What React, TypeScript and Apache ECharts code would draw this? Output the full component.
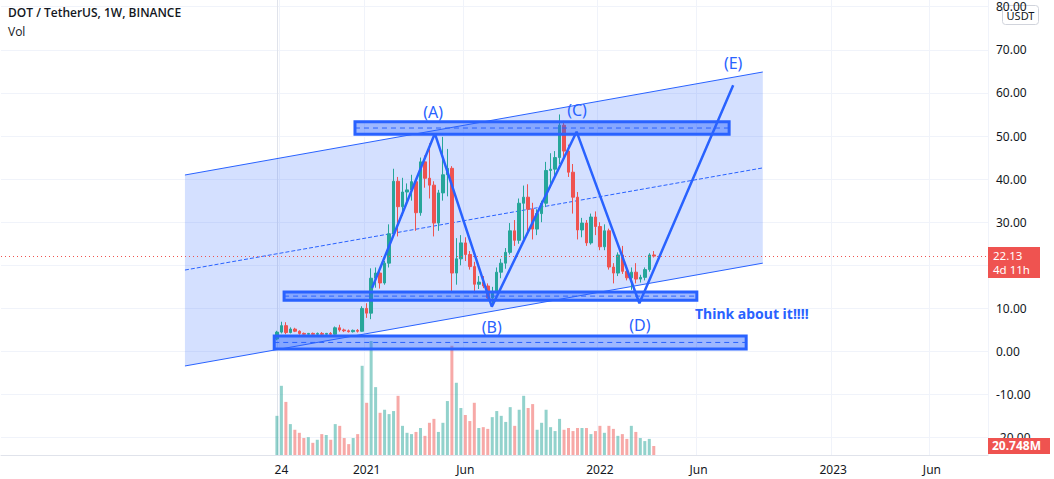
import React, { useEffect, useRef } from 'react';
import * as echarts from 'echarts';

// ---- weekly DOT/USDT candles (index 0 = week of 2020-08-17) ----
const opens = [2.9, 4.5, 6.0, 4.4, 5.2, 4.7, 4.2, 4.0, 4.2, 4.0, 4.2, 4.0, 4.2, 4.0, 5.5, 5.0, 4.8, 4.6, 4.9, 4.7,
  10.0, 8.9, 17.0, 18.2, 15.9, 20.5, 27.3, 39.5, 33.6, 37.0, 37.5, 39.4, 32.2, 44.0, 40.2, 38.6, 29.8, 36.8, 41.0, 42.5,
  18.2, 21.5, 25.2, 22.5, 19.7, 15.6, 16.1, 15.2, 12.4, 13.8, 18.4, 20.5, 23.0, 28.0, 25.8, 34.4, 35.8, 33.0, 28.4, 32.0,
  34.4, 42.0, 42.3, 45.0, 52.5, 46.5, 41.6, 35.8, 28.2, 29.8, 25.2, 31.2, 29.0, 24.3, 28.0, 19.6, 18.2, 22.4, 18.6, 17.1,
  18.4, 16.8, 17.2, 19.0, 22.4];
const highs = [4.8, 6.9, 6.8, 5.6, 5.5, 4.9, 4.4, 4.3, 4.4, 4.4, 4.5, 4.3, 4.5, 5.8, 6.2, 5.3, 5.1, 5.1, 5.2, 10.5,
  11.2, 19.3, 19.5, 19.0, 21.0, 29.5, 42.4, 40.5, 40.3, 39.0, 41.0, 40.0, 45.0, 45.5, 48.3, 39.5, 37.5, 49.8, 47.0, 43.0,
  26.3, 27.0, 26.5, 23.3, 20.8, 17.5, 17.5, 15.8, 15.0, 19.5, 21.5, 24.0, 29.8, 30.5, 35.5, 38.5, 38.8, 34.5, 33.0, 35.0,
  44.0, 46.0, 46.5, 55.0, 53.5, 48.0, 43.5, 37.0, 31.0, 30.5, 32.0, 32.5, 30.0, 29.5, 28.5, 20.5, 23.0, 24.5, 19.8, 19.5,
  20.5, 17.8, 19.5, 22.8, 23.3];
const lows = [2.6, 4.2, 4.0, 4.2, 4.5, 3.9, 3.9, 3.9, 3.9, 3.8, 3.7, 3.6, 3.8, 3.9, 4.6, 4.5, 4.4, 4.4, 4.4, 4.6,
  7.8, 7.5, 14.8, 14.6, 15.5, 19.5, 26.8, 26.7, 31.5, 34.0, 35.0, 28.0, 31.5, 38.0, 35.5, 26.7, 28.0, 35.0, 36.0, 13.8,
  15.5, 20.0, 21.0, 19.0, 13.5, 14.5, 14.7, 11.8, 10.4, 13.5, 17.0, 19.2, 22.5, 24.5, 25.0, 26.0, 27.0, 26.0, 27.0, 30.0,
  33.5, 38.0, 40.5, 43.5, 44.5, 40.5, 32.0, 26.0, 26.5, 24.5, 24.8, 27.0, 23.5, 23.5, 19.0, 15.8, 17.5, 18.0, 16.5, 14.3,
  15.8, 16.0, 16.5, 18.5, 21.8];
const closes = [4.5, 6.0, 4.4, 5.2, 4.7, 4.2, 4.0, 4.2, 4.0, 4.2, 4.0, 4.2, 4.0, 5.5, 5.0, 4.8, 4.6, 4.9, 4.7, 10.0,
  8.9, 17.0, 18.2, 15.9, 20.5, 27.3, 39.5, 33.6, 37.0, 37.5, 39.4, 32.2, 44.0, 40.2, 38.6, 29.8, 36.8, 41.0, 42.5, 18.2,
  21.5, 25.2, 22.5, 19.7, 15.6, 16.1, 15.2, 12.4, 13.8, 18.4, 20.5, 23.0, 28.0, 25.8, 34.4, 35.8, 33.0, 28.4, 32.0, 34.4,
  42.0, 42.3, 45.0, 52.5, 46.5, 41.6, 35.8, 28.2, 29.8, 25.2, 31.2, 29.0, 24.3, 28.0, 19.6, 18.2, 22.4, 18.6, 17.1, 18.4,
  16.8, 17.2, 19.0, 22.4, 22.13];
// volume in millions
const volumes = [90, 159, 122, 71, 58, 51, 39, 41, 28, 35, 48, 46, 35, 71, 67, 39, 25, 39, 48, 205,
  120, 262, 156, 97, 104, 94, 101, 136, 67, 51, 48, 53, 62, 44, 74, 83, 53, 74, 124, 251,
  166, 108, 92, 78, 120, 62, 64, 60, 87, 101, 90, 76, 110, 67, 104, 136, 108, 117, 58, 74,
  104, 64, 55, 83, 58, 62, 55, 62, 62, 62, 48, 55, 67, 51, 67, 60, 44, 48, 37, 67,
  53, 39, 32, 37, 20.748];

// ---- time axis ----
const LEAD_WEEKS = 61;   // weeks shown before the first candle
const TOTAL_WEEKS = 220; // weeks spanned by the plot
const xTickWeeks = [1, 20, 42, 72, 94, 124, 146];
const xTickLabels = ['24', '2021', 'Jun', '2022', 'Jun', '2023', 'Jun'];

// ---- price axis ----
const priceMin = -20;
const priceMax = 80;
const priceStep = 10;
const hiddenPriceTicks = [20]; // covered by the last-price tag

// ---- drawings (week index, price) ----
const channelWeeks = [-20.5, 108.3];
const channelTop = [40.95, 64.85];
const channelBottom = [-3.36, 20.5];
const channelMid = [18.9, 42.6];

const rectStartWeeks = [17.4, 1.6, -0.6];
const rectEndWeeks = [100.8, 93.6, 104.6];
const rectTop = [53.3, 13.8, 3.6];
const rectBottom = [50.4, 11.9, 0.6];

const zigzagWeeks = [21.2, 35.2, 47.9, 66.8, 80.8, 101.7];
const zigzagPrices = [14.7, 50.6, 10.4, 51.0, 11.2, 61.8];

const labelTexts = ['(A)', '(B)', '(C)', '(D)', '(E)'];
const labelWeeks = [34.8, 47.9, 66.9, 80.9, 101.7];
const labelPrices = [55.6, 5.7, 56.0, 6.1, 66.9];

const noteText = 'Think about it!!!!';
const noteWeek = 93.2;
const notePrice = 8.9;

const countdown = '4d 11h';

const GREEN = '#26a69a';
const RED = '#ef5350';
const BLUE = '#2962ff';
const FONT = "'Noto Sans', sans-serif";

export default function App() {
  const ref = useRef<HTMLDivElement>(null);

  useEffect(() => {
    document.body.style.margin = '0';
    const chart = echarts.init(ref.current!, null, { renderer: 'svg' });

    const xMin = -LEAD_WEEKS - 0.5;
    const xMax = TOTAL_WEEKS - LEAD_WEEKS - 0.5;
    const last = closes.length - 1;

    const catLabels: string[] = Array.from({ length: TOTAL_WEEKS }, () => '');
    xTickWeeks.forEach((w, j) => { catLabels[w + LEAD_WEEKS] = xTickLabels[j]; });

    const candleData = opens.map((o, i) => [i, o, closes[i], lows[i], highs[i]]);
    const volData = volumes.map((v, i) => ({
      value: [i, v],
      itemStyle: { color: closes[i] >= opens[i] ? 'rgba(38,166,154,0.5)' : 'rgba(239,83,80,0.5)' },
    }));
    const volAxisMax = Math.max(...volumes) * 455 / 114;

    const lineSeries = (data: number[][], type: string, width: number, z: number) => ({
      type: 'line', xAxisIndex: 0, yAxisIndex: 0, data, symbol: 'none', silent: true, z,
      lineStyle: { color: BLUE, width, type },
    });

    const option: any = {
      animation: false,
      backgroundColor: '#ffffff',
      grid: [
        { left: 1, right: 66, top: 6.7, bottom: 41.3 },
        { left: 1, right: 66, top: 0, bottom: 24 },
      ],
      xAxis: [
        { type: 'value', gridIndex: 0, min: xMin, max: xMax, show: false, position: 'top' },
        { type: 'value', gridIndex: 1, min: xMin, max: xMax, show: false, position: 'top' },
        {
          type: 'category', gridIndex: 1, data: catLabels, boundaryGap: true, position: 'bottom',
          axisLine: { lineStyle: { color: '#e0e3eb' } },
          axisTick: { show: false },
          axisLabel: {
            interval: (_i: number, v: string) => v !== '',
            color: '#131722', fontSize: 12, fontFamily: FONT, margin: 8,
          },
          splitLine: { show: true, interval: (_i: number, v: string) => v !== '', lineStyle: { color: '#f0f3fa' } },
        },
      ],
      yAxis: [
        {
          type: 'value', gridIndex: 0, position: 'right', min: priceMin, max: priceMax, interval: priceStep,
          axisLine: { show: false }, axisTick: { show: false },
          axisLabel: {
            formatter: (v: number) => (hiddenPriceTicks.includes(v) ? '' : v.toFixed(2)),
            color: '#131722', fontSize: 12, fontFamily: FONT, margin: 8,
          },
          splitLine: { lineStyle: { color: '#f0f3fa' } },
        },
        {
          type: 'value', gridIndex: 1, position: 'right', min: 0, max: volAxisMax,
          axisLine: { show: true, lineStyle: { color: '#e0e3eb' } },
          axisTick: { show: false }, axisLabel: { show: false }, splitLine: { show: false },
        },
      ],
      series: [
        // channel background
        {
          type: 'custom', xAxisIndex: 0, yAxisIndex: 0, silent: true, z: 1,
          data: [[channelWeeks[0], channelTop[0]]],
          renderItem: (_p: any, api: any) => ({
            type: 'polygon',
            shape: {
              points: [
                api.coord([channelWeeks[0], channelTop[0]]),
                api.coord([channelWeeks[1], channelTop[1]]),
                api.coord([channelWeeks[1], channelBottom[1]]),
                api.coord([channelWeeks[0], channelBottom[0]]),
              ],
            },
            style: { fill: 'rgba(41,98,255,0.2)', stroke: 'none' },
          }),
        },
        lineSeries(channelWeeks.map((w, i) => [w, channelTop[i]]), 'solid', 1, 2),
        lineSeries(channelWeeks.map((w, i) => [w, channelBottom[i]]), 'solid', 1, 2),
        lineSeries(channelWeeks.map((w, i) => [w, channelMid[i]]), 'dashed', 1, 2),
        // volume
        {
          type: 'bar', xAxisIndex: 1, yAxisIndex: 1, data: volData, barWidth: 3, silent: true, z: 2,
        },
        // candles
        {
          type: 'candlestick', xAxisIndex: 0, yAxisIndex: 0, data: candleData, barWidth: 3, z: 3,
          encode: { x: 0, y: [1, 2, 3, 4] },
          itemStyle: { color: GREEN, color0: RED, borderColor: GREEN, borderColor0: RED, borderWidth: 1 },
          markLine: {
            silent: true, symbol: 'none',
            data: [{ yAxis: closes[last] }],
            lineStyle: { color: RED, type: [1, 3], width: 1 },
            label: { show: false },
          },
        },
        // rectangles
        {
          type: 'custom', xAxisIndex: 0, yAxisIndex: 0, silent: true, z: 4,
          data: rectStartWeeks.map((w, i) => [w, rectTop[i], rectEndWeeks[i], rectBottom[i]]),
          encode: { x: [0, 2], y: [1, 3] },
          renderItem: (_p: any, api: any) => {
            const a = api.coord([api.value(0), api.value(1)]);
            const b = api.coord([api.value(2), api.value(3)]);
            const midY = (a[1] + b[1]) / 2;
            return {
              type: 'group',
              children: [
                {
                  type: 'rect',
                  shape: { x: a[0], y: a[1], width: b[0] - a[0], height: b[1] - a[1] },
                  style: { fill: 'rgba(41,98,255,0.45)', stroke: BLUE, lineWidth: 3 },
                },
                {
                  type: 'line',
                  shape: { x1: a[0], y1: midY, x2: b[0], y2: midY },
                  style: { stroke: BLUE, lineWidth: 1, lineDash: [5, 4] },
                },
              ],
            };
          },
        },
        // zigzag
        lineSeries(zigzagWeeks.map((w, i) => [w, zigzagPrices[i]]), 'solid', 2.5, 5),
        // labels
        {
          type: 'custom', xAxisIndex: 0, yAxisIndex: 0, silent: true, z: 6,
          data: labelWeeks.map((w, i) => [w, labelPrices[i]]),
          renderItem: (p: any, api: any) => {
            const c = api.coord([api.value(0), api.value(1)]);
            return {
              type: 'text', x: c[0], y: c[1],
              style: {
                text: labelTexts[p.dataIndex], fill: BLUE, fontSize: 16, fontFamily: FONT,
                align: 'center', verticalAlign: 'middle',
              },
            };
          },
        },
        {
          type: 'custom', xAxisIndex: 0, yAxisIndex: 0, silent: true, z: 6,
          data: [[noteWeek, notePrice]],
          renderItem: (_p: any, api: any) => {
            const c = api.coord([api.value(0), api.value(1)]);
            return {
              type: 'text', x: c[0], y: c[1],
              style: {
                text: noteText, fill: BLUE, fontSize: 14, fontWeight: 'bold', fontFamily: FONT,
                align: 'left', verticalAlign: 'middle',
              },
            };
          },
        },
        // last price tag
        {
          type: 'custom', xAxisIndex: 0, yAxisIndex: 0, silent: true, z: 20, clip: false,
          data: [[xMax, closes[last]]],
          renderItem: (_p: any, api: any) => {
            const c = api.coord([api.value(0), api.value(1)]);
            return {
              type: 'group',
              children: [
                { type: 'rect', shape: { x: c[0], y: c[1] - 9, width: 52, height: 31 }, style: { fill: RED } },
                {
                  type: 'text', x: c[0] + 5, y: c[1] - 0.5,
                  style: { text: closes[last].toFixed(2), fill: '#fff', fontSize: 11.5, fontFamily: FONT, verticalAlign: 'middle' },
                },
                {
                  type: 'text', x: c[0] + 5, y: c[1] + 13.5,
                  style: { text: countdown, fill: '#fff', fontSize: 11.5, fontFamily: FONT, verticalAlign: 'middle' },
                },
              ],
            };
          },
        },
        // last volume tag
        {
          type: 'custom', xAxisIndex: 1, yAxisIndex: 1, silent: true, z: 20, clip: false,
          data: [[xMax, volumes[last]]],
          renderItem: (_p: any, api: any) => {
            const c = api.coord([api.value(0), api.value(1)]);
            return {
              type: 'group',
              children: [
                { type: 'rect', shape: { x: c[0], y: c[1] - 8, width: 62, height: 16 }, style: { fill: RED } },
                {
                  type: 'text', x: c[0] + 4, y: c[1],
                  style: { text: volumes[last].toFixed(3) + 'M', fill: '#fff', fontSize: 12, fontWeight: 'bold', fontFamily: FONT, verticalAlign: 'middle' },
                },
              ],
            };
          },
        },
      ],
      graphic: [
        {
          type: 'text', left: 8, top: 6, z: 50,
          style: { text: 'DOT / TetherUS, 1W, BINANCE', fill: '#131722', fontSize: 12, fontWeight: 600, fontFamily: "'Open Sans', sans-serif" },
        },
        {
          type: 'text', left: 8, top: 25, z: 50,
          style: { text: 'Vol', fill: '#131722', fontSize: 12, fontFamily: "'Open Sans', sans-serif" },
        },
        {
          type: 'group', right: 15, top: 5, z: 50,
          children: [
            { type: 'rect', shape: { x: 0, y: 0, width: 36, height: 19, r: 3 }, style: { fill: '#fff', stroke: '#d1d4dc', lineWidth: 1 } },
            { type: 'text', x: 18, y: 10, style: { text: 'USDT', fill: '#131722', fontSize: 11, fontFamily: FONT, align: 'center', verticalAlign: 'middle' } },
          ],
        },
      ],
    };

    chart.setOption(option);
    return () => chart.dispose();
  }, []);

  return <div ref={ref} style={{ width: 1054, height: 479 }} />;
}
